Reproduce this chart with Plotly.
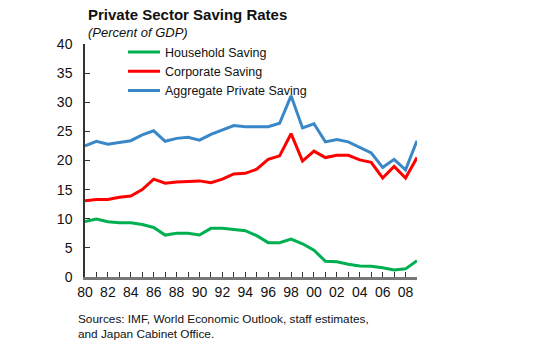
import plotly.graph_objects as go

years = list(range(1980, 2010))
household = [9.5, 9.95, 9.5, 9.3, 9.3, 9.0, 8.5, 7.2, 7.5, 7.5, 7.2, 8.35, 8.35, 8.2, 7.95,
             7.1, 5.9, 5.9, 6.5, 5.7, 4.6, 2.7, 2.6, 2.2, 1.9, 1.85, 1.6, 1.2, 1.4, 2.8]
corporate = [13.1, 13.3, 13.3, 13.7, 13.9, 15.0, 16.8, 16.1, 16.3, 16.4, 16.5, 16.2, 16.8, 17.7, 17.8,
             18.5, 20.2, 20.8, 24.6, 19.9, 21.6, 20.5, 20.9, 20.9, 20.1, 19.7, 17.0, 19.0, 17.0, 20.5]
aggregate = [22.5, 23.3, 22.8, 23.1, 23.4, 24.4, 25.1, 23.3, 23.8, 24.0, 23.5, 24.5, 25.2, 26.0, 25.8,
             25.8, 25.8, 26.4, 31.1, 25.6, 26.3, 23.2, 23.6, 23.2, 22.2, 21.3, 18.8, 20.2, 18.4, 23.4]
tick_text = [str(y)[2:] if y % 2 == 0 else "" for y in years]
y_ticks = [0, 5, 10, 15, 20, 25, 30, 35, 40]

FONT = "Arial, Liberation Sans, sans-serif"
W, H = 538, 350
ML, MR, MT, MB = 85, 121, 44, 73

fig = go.Figure()
fig.add_trace(go.Scatter(x=years, y=household, mode="lines", name="Household Saving",
                         line=dict(color="#00b050", width=3)))
fig.add_trace(go.Scatter(x=years, y=corporate, mode="lines", name="Corporate Saving",
                         line=dict(color="#ff0000", width=3)))
fig.add_trace(go.Scatter(x=years, y=aggregate, mode="lines", name="Aggregate Private Saving",
                         line=dict(color="#3a87c8", width=3)))

fig.update_layout(
    width=W, height=H,
    margin=dict(l=ML, r=MR, t=MT, b=MB),
    paper_bgcolor="white", plot_bgcolor="white",
    font=dict(family=FONT, color="#111111"),
    showlegend=True,
    legend=dict(x=(123 - ML) / (W - ML - MR), y=1.028, xanchor="left", yanchor="top",
                bgcolor="rgba(0,0,0,0)", font=dict(size=12.5, color="#111111"),
                tracegroupgap=0, itemwidth=32),
    xaxis=dict(range=[1980, 2009], tickmode="array", tickvals=years, ticktext=tick_text,
               ticks="inside", ticklen=5, tickcolor="#333333", tickwidth=1,
               showline=True, linecolor="#777777", linewidth=2.5,
               showgrid=False, zeroline=False, tickfont=dict(size=14, color="#111111")),
    yaxis=dict(range=[0, 40], tickmode="array", tickvals=y_ticks,
               ticks="inside", ticklen=5, tickcolor="#333333",
               showline=True, linecolor="#333333", linewidth=1.5,
               showgrid=False, zeroline=False, tickfont=dict(size=14, color="#111111"),
               ticklabelstandoff=8),
)


def px_ann(px, py, text, size, **kw):
    fig.add_annotation(x=(px - ML) / (W - ML - MR), y=(H - MB - py) / (H - MT - MB),
                       xref="paper", yref="paper", text=text, showarrow=False,
                       xanchor="left", yanchor="middle", align="left",
                       font=dict(size=size, color="#111111"), **kw)


px_ann(86, 15, "<b>Private Sector Saving Rates</b>", 15)
px_ann(86, 32, "<i>(Percent of GDP)</i>", 13)
px_ann(76, 326, "Sources: IMF, World Economic Outlook, staff estimates,<br>and Japan Cabinet Office.", 11.8)

fig.write_html("out.html")
